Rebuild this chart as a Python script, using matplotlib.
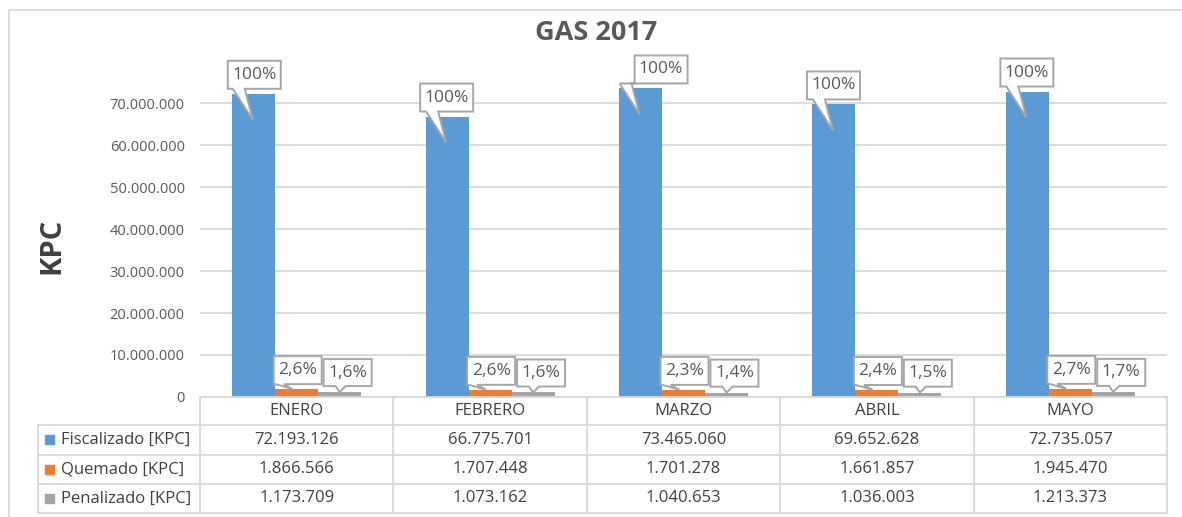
import matplotlib
matplotlib.use("Agg")
import matplotlib.pyplot as plt
from matplotlib.patches import Polygon, Rectangle
from matplotlib.lines import Line2D
from matplotlib.transforms import ScaledTranslation, blended_transform_factory
from matplotlib.ticker import FuncFormatter

plt.rcParams['font.family'] = ['Open Sans', 'DejaVu Sans']

meses = ['ENERO', 'FEBRERO', 'MARZO', 'ABRIL', 'MAYO']
fiscalizado = [72193126, 66775701, 73465060, 69652628, 72735057]
quemado = [1866566, 1707448, 1701278, 1661857, 1945470]
penalizado = [1173709, 1073162, 1040653, 1036003, 1213373]
series = ['Fiscalizado [KPC]', 'Quemado [KPC]', 'Penalizado [KPC]']
colores = ['#5B9BD5', '#ED7D31', '#A5A5A5']

W, H = 1182, 517
GRID = '#d9d9d9'
TXT = '#404040'


def miles(v):
    return f"{int(v):,}".replace(',', '.')


def pct(a, b):
    s = f"{a / b * 100:.1f}".replace('.', ',')
    if s.endswith(',0'):
        s = s[:-2]
    return s + '%'


fig = plt.figure(figsize=(W / 100, H / 100), dpi=100)
ax = fig.add_axes([200 / W, 1 - 397 / H, 967 / W, 336 / H])

bw = 0.222
xs = list(range(len(meses)))
ax.bar([x - bw for x in xs], fiscalizado, bw, color=colores[0], zorder=2)
ax.bar(xs, quemado, bw, color=colores[1], zorder=2)
ax.bar([x + bw for x in xs], penalizado, bw, color=colores[2], zorder=2)

ax.set_xlim(-0.5, len(meses) - 0.5)
ax.set_ylim(0, 80e6)
ax.set_yticks([i * 10e6 for i in range(8)])
ax.yaxis.set_major_formatter(FuncFormatter(lambda v, p: miles(v)))
ax.tick_params(axis='y', length=0, pad=11, labelsize=10.5, labelcolor='#595959')
ax.set_xticks([])
ax.yaxis.grid(True, color=GRID, lw=1.3, zorder=0)
for s in ax.spines.values():
    s.set_visible(False)


def callout(x, y, text, l, b, w, h, base, tip):
    tr = ScaledTranslation(x, y, ax.transData)
    pts = [(l, b), (l + base[0], b), tip, (l + base[1], b),
           (l + w, b), (l + w, b + h), (l, b + h)]
    ax.add_patch(Polygon(pts, closed=True, transform=tr, fc='white',
                         ec='#a6a6a6', lw=1.4, zorder=5, clip_on=False))
    ax.text(l + w / 2, b + h / 2, text, transform=tr, ha='center', va='center',
            fontsize=12.5, color='#595959', zorder=6, clip_on=False)


fisc_l = [-26, -27, -6, -27, -27]
for i, x in enumerate(xs):
    callout(x - bw, fiscalizado[i], pct(fiscalizado[i], fiscalizado[i]),
            fisc_l[i], 5, 53, 28, (-fisc_l[i] - 21, -fisc_l[i] - 9), (-1, -26))
    callout(x, quemado[i], pct(quemado[i], fiscalizado[i]),
            -23, 5, 48, 28, (2, 10), (-4, 0))
    callout(x + bw, penalizado[i], pct(penalizado[i], fiscalizado[i]),
            -16, 6, 48, 27, (12, 22), (0, 0))

# tabla de datos
tb = blended_transform_factory(ax.transData, fig.transFigure)
fy = lambda py: 1 - py / H
rows = [397, 425, 454.5, 484, 513]
x0, x1 = -0.5, len(meses) - 0.5

fig.add_artist(Line2D([x0, x1], [fy(rows[0])] * 2, transform=tb, color=GRID, lw=1.3))
for r in rows[1:]:
    fig.add_artist(Line2D([38 / W, 1167 / W], [fy(r)] * 2, color=GRID, lw=1.3))
for k in range(len(meses) + 1):
    fig.add_artist(Line2D([k - 0.5] * 2, [fy(rows[0]), fy(rows[-1])], transform=tb,
                          color=GRID, lw=1.3))
fig.add_artist(Line2D([38 / W] * 2, [fy(rows[1]), fy(rows[-1])], color=GRID, lw=1.3))

for i, m in enumerate(meses):
    fig.text(i, fy((rows[0] + rows[1]) / 2), m, transform=tb, ha='center',
             va='center', fontsize=12, color=TXT)

datos = [fiscalizado, quemado, penalizado]
for j, serie in enumerate(datos):
    yc = fy((rows[j + 1] + rows[j + 2]) / 2)
    fig.add_artist(Rectangle((45 / W, yc - 4.5 / H), 9 / W, 9 / H,
                             color=colores[j], transform=fig.transFigure))
    fig.text(61 / W, yc, series[j], ha='left', va='center', fontsize=12, color=TXT)
    for i, v in enumerate(serie):
        fig.text(i, yc, miles(v), transform=tb, ha='center', va='center',
                 fontsize=12, color=TXT)

fig.text(596 / W, fy(33), 'GAS 2017', ha='center', va='center', fontsize=19.5,
         fontweight='bold', color='#595959')
fig.text(52 / W, fy(246), 'KPC', ha='center', va='center', rotation=90,
         fontsize=21, fontweight='bold', color='#404040')

# borde del grafico
fig.add_artist(Rectangle((9 / W, -0.1), 1.2, fy(10) + 0.1, fill=False,
                         ec=GRID, lw=1.3, transform=fig.transFigure))

fig.savefig('out.png', dpi=100)
